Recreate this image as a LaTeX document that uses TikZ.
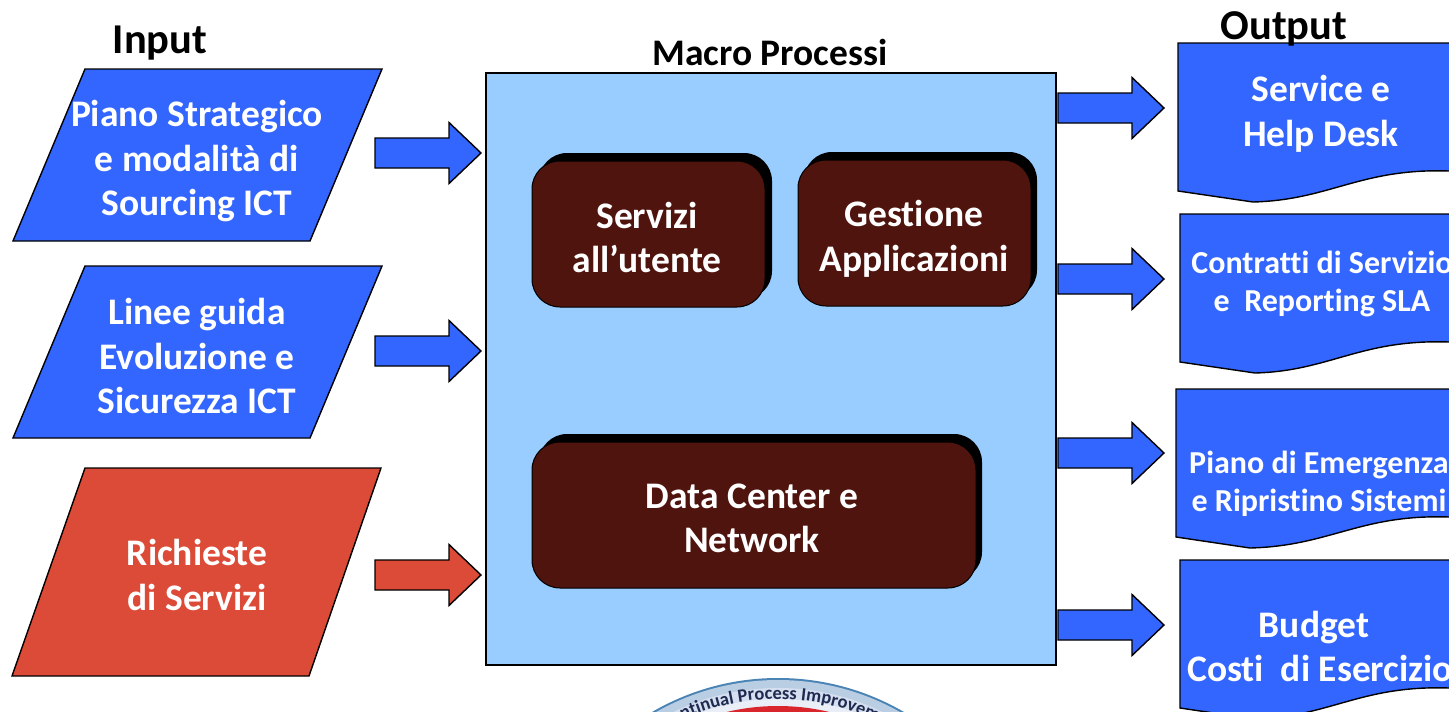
\documentclass[tikz,border=0pt]{standalone}
\usepackage{fontspec}
\setmainfont{Carlito}[Ligatures=NoCommon]
\usetikzlibrary{decorations.text}
\definecolor{bluefill}{HTML}{3366FF}
\definecolor{redfill}{HTML}{DC4A38}
\definecolor{lightfill}{HTML}{99CCFF}
\definecolor{brownfill}{HTML}{4F140E}
\definecolor{logoblue}{HTML}{4A84B5}
\definecolor{logoband}{HTML}{D5DFEF}
\definecolor{logored}{HTML}{D8262C}
\definecolor{logotext}{HTML}{1F2A50}
\tikzset{
  x=1pt,y=-1pt,
  shapeline/.style={draw=black,line width=1.4pt,line join=miter},
  bluebox/.style={shapeline,fill=bluefill},
  redbox/.style={shapeline,fill=redfill},
  label48/.style={text=white,font=\fontsize{37.5}{44.5}\selectfont\bfseries,align=center,inner sep=0pt},
  labelsmall/.style={text=white,font=\fontsize{32}{38}\selectfont\bfseries,align=center,inner sep=0pt},
  title/.style={text=black,font=\bfseries,inner sep=0pt},
  shadowbox/.style={fill=black,rounded corners=28pt},
  brownbox/.style={draw=black,line width=1pt,fill=brownfill,rounded corners=28pt},
}
\newcommand{\blockarrow}[3]{% x start, y centre, style
  \draw[#3] (#1,#2-15) -- ++(74,0) -- ++(0,-15.5) -- ++(32,30.5) -- ++(-32,30.5) -- ++(0,-15.5) -- ++(-74,0) -- cycle;
}
\begin{document}
\begin{tikzpicture}
\useasboundingbox (0,0) rectangle (1449,712);
\clip (0,0) rectangle (1449,712);
\fill[white] (0,0) rectangle (1449,712);

% logo
\fill[logoblue] (778,928) circle (250);
\fill[logoband!80!logoblue] (778,928) circle (248);
\fill[logoband] (778,928) circle (240);
\fill[logoband!50!white] (778,928) circle (229);
\fill[logored] (778,928) circle (222);
\begin{scope}[shift={(778,928)},y=1pt]
\path[decorate,decoration={text along path,text align=center,
  text={|\fontsize{18.5}{18.5}\selectfont\bfseries\color{logotext}|ntinual Process Improvem}}]
  (121.5:229) arc[start angle=121.5,end angle=57.5,radius=229];
\end{scope}

% inputs
\draw[bluebox] (85,69) -- (382,69) -- (310,241) -- (13,241) -- cycle;
\draw[bluebox] (85,266) -- (382,266) -- (310,438) -- (13,438) -- cycle;
\draw[redbox] (85,468) -- (381,468) -- (309,676) -- (12,676) -- cycle;
\node[label48] (in1) at (197,161.5) {Piano Strategico\\e modalità di\ \\Sourcing ICT};
\node[label48] (in2) at (197,356) {Linee guida\ \\Evoluzione e\\Sicurezza ICT};
\node[label48] (in3) at (197,575) {Richieste\\di Servizi};

% input arrows
\blockarrow{375}{153}{bluebox}
\blockarrow{375}{351}{bluebox}
\blockarrow{375}{575}{redbox}

% process box
\draw[draw=black,line width=1.6pt,fill=lightfill] (486,73) rectangle (1056,665);
\fill[shadowbox] (539,153) rectangle (772,299);
\draw[brownbox] (532,161) rectangle (765,307);
\fill[shadowbox] (804,152) rectangle (1037,298);
\draw[brownbox] (798,160) rectangle (1031,306);
\fill[shadowbox] (539,434) rectangle (982,580);
\draw[brownbox] (532,442) rectangle (976,588);
\node[label48] (p1) at (647,237.5) {\ Servizi\ \ \\all’utente};
\node[label48] (p2) at (914,239) {Gestione\\Applicazioni};
\node[label48] (p3) at (752,518.5) {Data Center e\\Network};

% output arrows
\blockarrow{1058}{108}{bluebox}
\blockarrow{1058}{279}{bluebox}
\blockarrow{1058}{453}{bluebox}
\blockarrow{1058}{625}{bluebox}

% outputs
\draw[bluebox] (1178,43) -- (1470,43) -- (1470,171) -- (1449,171) .. controls (1360,168) and (1330,200) .. (1253,202) -- (1178,191) -- cycle;
\draw[bluebox] (1180,214) -- (1470,214) -- (1470,342) -- (1449,342) .. controls (1360,339) and (1330,371) .. (1255,373) -- (1180,362) -- cycle;
\draw[bluebox] (1176,389) -- (1470,389) -- (1470,517) -- (1449,517) .. controls (1360,514) and (1330,546) .. (1250,548) -- (1176,537) -- cycle;
\draw[bluebox] (1180,560) -- (1470,560) -- (1470,688) -- (1449,688) .. controls (1360,685) and (1330,717) .. (1254,719) -- (1180,708) -- cycle;
\node[label48] (o1) at (1321,114) {Service e\\Help Desk};
\node[labelsmall] (o2) at (1322,284) {Contratti di Servizio\\e\ \ Reporting SLA};
\node[labelsmall] (o3) at (1319,484) {Piano di Emergenza\\e Ripristino Sistemi};
\node[label48] (o4) at (1320,646.5) {\hspace*{-12pt}Budget\\Costi\ \ di Esercizio};

% titles
\node[title,font=\fontsize{42.5}{42.5}\selectfont\bfseries] (tin) at (160,43) {Input};
\node[title,font=\fontsize{37.5}{37.5}\selectfont\bfseries] (tmacro) at (770,52) {Macro Processi};
\node[title,font=\fontsize{42.5}{42.5}\selectfont\bfseries] (tout) at (1284,29) {Output};
\end{tikzpicture}
\end{document}
